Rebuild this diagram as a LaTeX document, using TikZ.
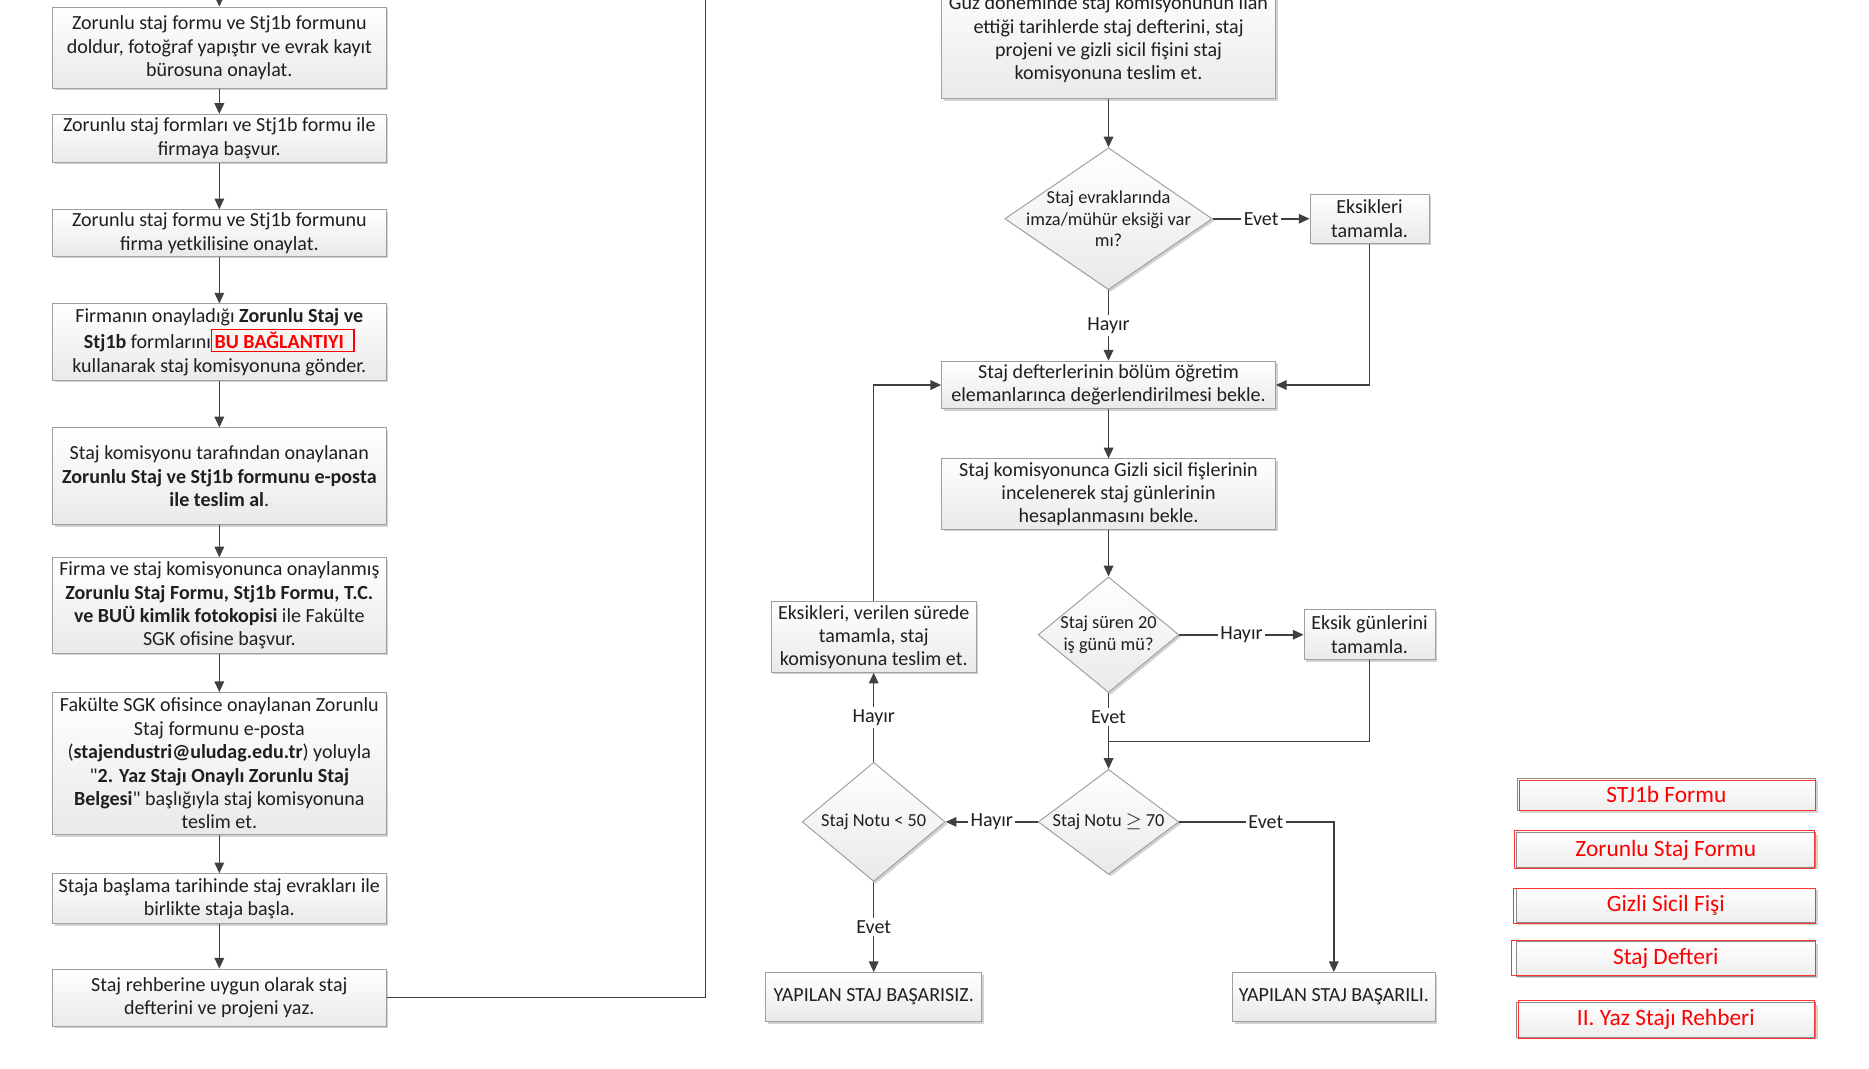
\documentclass[tikz,border=0pt]{standalone}
\usepackage{fontspec}
\setmainfont{Carlito}
\newfontfamily\qfont{Carlito}[Ligatures=TeXOff]
\usetikzlibrary{arrows.meta,shapes.geometric,shadows,calc}
\newcommand{\mainfs}{\fontsize{8.4}{9.8}\selectfont}
\newcommand{\diafs}{\fontsize{7.7}{8.9}\selectfont}
\newcommand{\btnfs}{\fontsize{9.8}{11}\selectfont}
\newcommand{\sq}{{\qfont"}}
\tikzset{
  box/.style={draw=gray!75, top color=white, bottom color=gray!17,
    general shadow={fill=gray!35, shadow xshift=0.9pt, shadow yshift=-0.9pt},
    align=center, inner xsep=1pt, inner ysep=0.5pt, font=\mainfs, text=black!88},
  dia/.style={shape=diamond, draw=gray!75, top color=white, bottom color=gray!17,
    general shadow={fill=gray!35, shadow xshift=0.9pt, shadow yshift=-0.9pt},
    inner sep=0pt},
  dtext/.style={align=center, font=\diafs, text=black!88, inner sep=0pt},
  btn/.style={draw=gray!90, top color=white, bottom color=gray!14,
    general shadow={fill=gray!35, shadow xshift=0.9pt, shadow yshift=-0.9pt},
    font=\btnfs, text=red, inner sep=0pt},
  redframe/.style={draw=red!80, line width=0.45pt},
  wire/.style={draw=black!75, line width=0.65pt},
  conn/.style={wire, -{Triangle[length=4.5pt,width=4pt]}},
  lbl/.style={fill=white, inner sep=1pt, font=\mainfs, text=black!88},
}
\begin{document}
\begin{tikzpicture}[x=0.5pt,y=-0.5pt]
\useasboundingbox (0,0) rectangle (1568,896);
\fill[white] (0,0) rectangle (1568,896);
\clip (0,0) rectangle (1568,896);

% ---------- left column ----------
\node[box, minimum width=140pt, minimum height=34pt] (L1) at (184,40)
  {Zorunlu staj formu ve Stj1b formunu\\doldur, fotoğraf yapıştır ve evrak kayıt\\bürosuna onaylat.};
\node[box, minimum width=140pt, minimum height=20pt] (L2) at (184,116)
  {Zorunlu staj formları ve Stj1b formu ile\\firmaya başvur.};
\node[box, minimum width=140pt, minimum height=19.5pt] (L3) at (184,195.5)
  {Zorunlu staj formu ve Stj1b formunu\\firma yetkilisine onaylat.};
\node[box, minimum width=140pt, minimum height=32pt] (L4) at (184,287)
  {Firmanın onayladığı \textbf{Zorunlu Staj ve}\\\textbf{Stj1b} formlarını{\color{red}\setlength{\fboxsep}{1pt}\setlength{\fboxrule}{0.5pt}\fbox{\textbf{BU BAĞLANTIYI}\hspace{3pt}}}\\kullanarak staj komisyonuna gönder.};
\node[box, minimum width=140pt, minimum height=40.5pt] (L5) at (184,399.5)
  {Staj komisyonu tarafından onaylanan\\\textbf{Zorunlu Staj ve Stj1b formunu e-posta}\\\textbf{ile teslim al}.};
\node[box, minimum width=140pt, minimum height=40pt] (L6) at (184,508)
  {Firma ve staj komisyonunca onaylanmış\\\textbf{Zorunlu Staj Formu, Stj1b Formu, T.C.}\\\textbf{ve BUÜ kimlik fotokopisi} ile Fakülte\\SGK ofisine başvur.};
\node[box, minimum width=140pt, minimum height=59.5pt] (L7) at (184,640.5)
  {Fakülte SGK ofisince onaylanan Zorunlu\\Staj formunu e-posta\\(\textbf{stajendustri@uludag.edu.tr}) yoluyla\\\sq\textbf{2. Yaz Stajı Onaylı Zorunlu Staj}\\\textbf{Belgesi}\sq{} başlığıyla staj komisyonuna\\teslim et.};
\node[box, minimum width=140pt, minimum height=21pt] (L8) at (184,754)
  {Staja başlama tarihinde staj evrakları ile\\birlikte staja başla.};
\node[box, minimum width=140pt, minimum height=24pt] (L9) at (184,837)
  {Staj rehberine uygun olarak staj\\defterini ve projeni yaz.};

\coordinate (inTop) at (184,-20);
\coordinate (loopTop) at (592,-20);
\draw[conn] (inTop) -- (L1.north);
\draw[conn] (L1.south) -- (L2.north);
\draw[conn] (L2.south) -- (L3.north);
\draw[conn] (L3.south) -- (L4.north);
\draw[conn] (L4.south) -- (L5.north);
\draw[conn] (L5.south) -- (L6.north);
\draw[conn] (L6.south) -- (L7.north);
\draw[conn] (L7.south) -- (L8.north);
\draw[conn] (L8.south) -- (L9.north);
\draw[wire] (L9.east) -| (loopTop);

% ---------- right part ----------
\node[box, minimum width=140pt, minimum height=50pt] (R1) at (930,33)
  {Güz döneminde staj komisyonunun ilan\\ettiği tarihlerde staj defterini, staj\\projeni ve gizli sicil fişini staj\\komisyonuna teslim et.};
\node[dia, minimum width=87pt, minimum height=59.5pt,
  label={[dtext]center:{Staj evraklarında\\imza/mühür eksiği var\\mı?}}] (D1) at (930,183.5) {};
\node[box, minimum width=50pt, minimum height=20.5pt] (E1) at (1149,183.5)
  {Eksikleri\\tamamla.};
\node[box, minimum width=140pt, minimum height=20pt] (R2) at (930,323)
  {Staj defterlerinin bölüm öğretim\\elemanlarınca değerlendirilmesi bekle.};
\node[box, minimum width=140pt, minimum height=29.5pt] (R3) at (930,414.5)
  {Staj komisyonunca Gizli sicil fişlerinin\\incelenerek staj günlerinin\\hesaplanmasını bekle.};
\node[dia, minimum width=59pt, minimum height=48.5pt,
  label={[dtext]center:{Staj süren 20\\iş günü mü?}}] (D2) at (930,532.5) {};
\node[box, minimum width=55pt, minimum height=21pt] (E2) at (1149,532.5)
  {Eksik günlerini\\tamamla.};
\node[box, minimum width=86pt, minimum height=29.5pt] (E3) at (733,534.5)
  {Eksikleri, verilen sürede\\tamamla, staj\\komisyonuna teslim et.};
\node[dia, minimum width=59pt, minimum height=44pt,
  label={[dtext]center:{Staj Notu $\geq$ 70}}] (D3) at (930,689.5) {};
\node[dia, minimum width=60pt, minimum height=50pt,
  label={[dtext]center:{Staj Notu < 50}}] (D4) at (733,689.5) {};
\node[box, minimum width=90.5pt, minimum height=20.5pt] (F1) at (733,836.5)
  {YAPILAN STAJ BAŞARISIZ.};
\node[box, minimum width=85pt, minimum height=20.5pt] (F2) at (1119,836.5)
  {YAPILAN STAJ BAŞARILI.};

\coordinate (J) at (930,622);
\draw[conn] (R1.south) -- (D1.north);
\draw[conn] (D1.east) -- node[lbl]{Evet} (E1.west);
\draw[conn] (E1.south) |- (R2.east);
\draw[conn] (D1.south) -- node[lbl]{Hayır} (R2.north);
\draw[conn] (R2.south) -- (R3.north);
\draw[conn] (R3.south) -- (D2.north);
\draw[conn] (D2.east) -- node[lbl]{Hayır} (E2.west);
\draw[wire] (D2.south) -- node[lbl]{Evet} (J);
\draw[wire] (E2.south) |- (J);
\draw[conn] (J) -- (D3.north);
\draw[conn] (D3.west) -- node[lbl]{Hayır} (D4.east);
\draw[conn] (D3.east) -| node[lbl, pos=0.28]{Evet} (F2.north);
\draw[conn] (D4.south) -- node[lbl]{Evet} (F1.north);
\draw[conn] (D4.north) -- node[lbl]{Hayır} (E3.south);
\draw[conn] (E3.north) |- (R2.west);

% ---------- link buttons ----------
\node[btn, minimum width=125pt, minimum height=13.5pt] (B1) at (1398,666.5) {STJ1b Formu};
\node[btn, minimum width=125.5pt, minimum height=14.5pt] (B2) at (1397.5,713) {Zorunlu Staj Formu};
\node[btn, minimum width=125.5pt, minimum height=14.5pt] (B3) at (1397.5,759.5) {Gizli Sicil Fişi};
\node[btn, minimum width=125.5pt, minimum height=14.5pt] (B4) at (1397.5,804.5) {Staj Defteri};
\node[btn, minimum width=125.5pt, minimum height=14.5pt] (B5) at (1397.5,855.5) {II. Yaz Stajı Rehberi};
\draw[redframe] ($(B1.north west)+(2.2,2)$) rectangle ($(B1.south east)+(-0.6,-0.6)$);
\draw[redframe] ($(B2.north west)+(-1.4,-1.4)$) rectangle ($(B2.south east)+(-0.8,0.6)$);
\draw[redframe] ($(B3.north west)+(-2.2,0.8)$) rectangle ($(B3.south east)+(-0.6,0.3)$);
\draw[redframe] ($(B4.north west)+(-3.4,-0.6)$) rectangle ($(B4.south east)+(-0.6,-0.8)$);
\draw[redframe] ($(B5.north west)+(2.2,-1.4)$) rectangle ($(B5.south east)+(-0.8,0.6)$);
\end{tikzpicture}
\end{document}
